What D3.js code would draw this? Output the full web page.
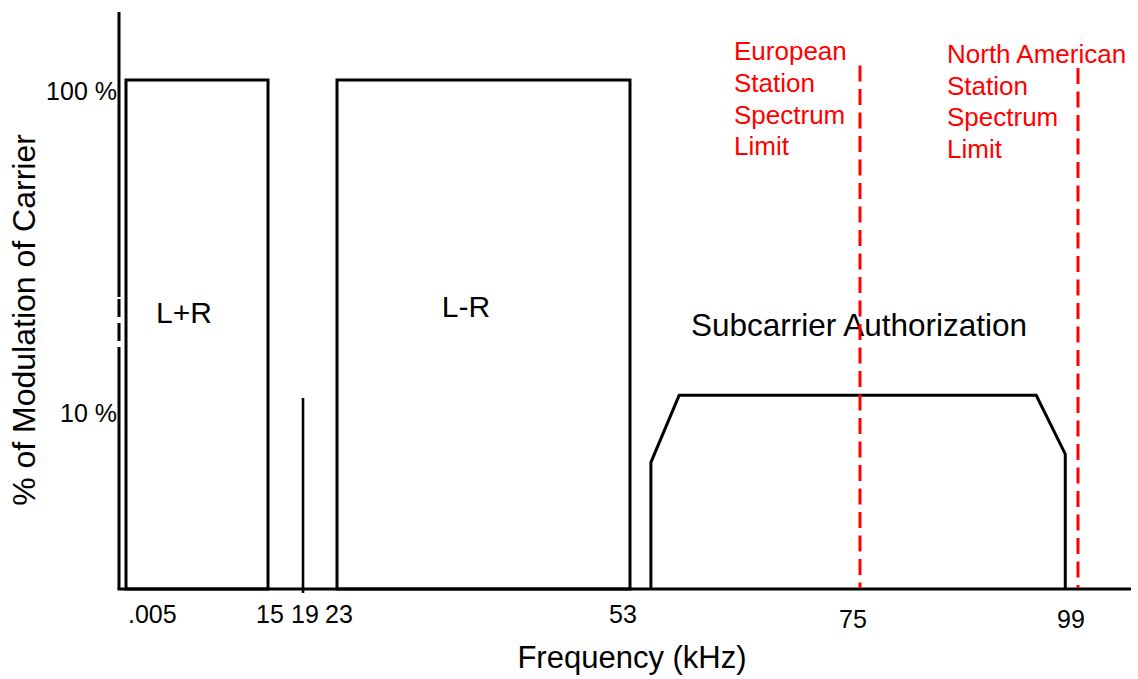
<!DOCTYPE html>
<html>
<head>
<meta charset="utf-8">
<script src="https://cdn.jsdelivr.net/npm/d3@7"></script>
<style>
  html, body { margin: 0; padding: 0; background: #fff; }
  svg { display: block; font-family: "Liberation Sans", Arial, sans-serif; }
</style>
</head>
<body>
<svg id="chart" width="1138" height="679"></svg>
<script>
// ---- data ----
const tickValues = [0.005, 15, 19, 23, 53, 75, 99];
const tickLabels = [".005", "15", "19", "23", "53", "75", "99"];
const yTickValues = [100, 10];
const yTickLabels = ["100 %", "10 %"];

const bandNames = ["L+R", "L-R"];
const bandStart = [0.005, 23];
const bandEnd = [15, 53];
const bandLevel = [100, 100];

const pilotFreq = 19;
const pilotLevel = 10.3;

const subName = "Subcarrier Authorization";
const subFreq = [55, 55, 57.7, 94.4, 97.6, 97.6];
const subLevel = [null, 6.5, 10.5, 10.5, 6.9, null];

const limitFreq = [75, 99];
const limitTop = [111, 109];
const limitLabels = [
  ["European", "Station", "Spectrum", "Limit"],
  ["North American", "Station", "Spectrum", "Limit"]
];

// ---- scales ----
const svg = d3.select("#chart");
const yMin = 2.63;
const x = d3.scaleLinear()
  .domain([0.005, 15, 19, 23, 53, 75, 99])
  .range([126, 268, 303, 337, 630, 860, 1078]);
const y = d3.scaleLog().domain([yMin, 100]).range([589, 80]);

const axisX0 = 119, axisX1 = 1131, axisYTop = 12;
const black = "#000", red = "#ff0000";

// ---- axes ----
// y axis with a dashed break
svg.append("line").attr("x1", axisX0).attr("x2", axisX0).attr("y1", axisYTop).attr("y2", 297)
  .attr("stroke", black).attr("stroke-width", 3);
svg.append("line").attr("x1", axisX0).attr("x2", axisX0).attr("y1", 299).attr("y2", 341)
  .attr("stroke", black).attr("stroke-width", 3).attr("stroke-dasharray", "18,6");
svg.append("line").attr("x1", axisX0).attr("x2", axisX0).attr("y1", 347).attr("y2", y(yMin))
  .attr("stroke", black).attr("stroke-width", 3);
// x axis
svg.append("line").attr("x1", axisX0 - 1.5).attr("x2", axisX1).attr("y1", y(yMin)).attr("y2", y(yMin))
  .attr("stroke", black).attr("stroke-width", 3);

// y tick labels
svg.selectAll("text.ytick").data(yTickValues).join("text")
  .attr("class", "ytick")
  .attr("x", 117)
  .attr("y", d => y(d) + 20)
  .attr("text-anchor", "end")
  .attr("font-size", 25)
  .attr("fill", black)
  .text((d, i) => yTickLabels[i]);

// x tick labels
svg.selectAll("text.xtick").data(tickValues).join("text")
  .attr("class", "xtick")
  .attr("x", (d, i) => i === 0 ? x(d) + 2 : (d < 50 ? x(d) + 2 : x(d) - 7))
  .attr("y", d => d > 60 ? 628 : 623)
  .attr("text-anchor", (d, i) => i === 0 ? "start" : "middle")
  .attr("font-size", 25)
  .attr("fill", black)
  .text((d, i) => tickLabels[i]);

// axis titles
svg.append("text")
  .attr("x", 632).attr("y", 668)
  .attr("text-anchor", "middle")
  .attr("font-size", 31)
  .text("Frequency (kHz)");
svg.append("text")
  .attr("transform", "translate(35,320) rotate(-90)")
  .attr("text-anchor", "middle")
  .attr("font-size", 32)
  .text("% of Modulation of Carrier");

// ---- bands ----
svg.selectAll("rect.band").data(bandNames).join("rect")
  .attr("class", "band")
  .attr("x", (d, i) => x(bandStart[i]))
  .attr("y", (d, i) => y(bandLevel[i]))
  .attr("width", (d, i) => x(bandEnd[i]) - x(bandStart[i]))
  .attr("height", (d, i) => y(yMin) - y(bandLevel[i]))
  .attr("fill", "none")
  .attr("stroke", black)
  .attr("stroke-width", 3);

svg.selectAll("text.band").data(bandNames).join("text")
  .attr("class", "band")
  .attr("x", (d, i) => i === 0 ? 184 : 466)
  .attr("y", (d, i) => i === 0 ? 323 : 317)
  .attr("text-anchor", "middle")
  .attr("font-size", 30)
  .text(d => d);

// pilot
svg.append("line")
  .attr("x1", x(pilotFreq)).attr("x2", x(pilotFreq))
  .attr("y1", y(pilotLevel)).attr("y2", y(yMin) + 4)
  .attr("stroke", black).attr("stroke-width", 2.6);

// subcarrier
const subLine = d3.line()
  .x(d => x(d[0]))
  .y(d => y(d[1] === null ? yMin : d[1]));
svg.append("path")
  .attr("d", subLine(subFreq.map((f, i) => [f, subLevel[i]])))
  .attr("fill", "none")
  .attr("stroke", black)
  .attr("stroke-width", 3)
  .attr("stroke-linejoin", "miter");

svg.append("text")
  .attr("x", 859).attr("y", 336)
  .attr("text-anchor", "middle")
  .attr("font-size", 31.5)
  .text(subName);

// ---- spectrum limits ----
svg.selectAll("line.limit").data(limitFreq).join("line")
  .attr("class", "limit")
  .attr("x1", d => x(d)).attr("x2", d => x(d))
  .attr("y1", (d, i) => y(limitTop[i]))
  .attr("y2", y(yMin) - 1)
  .attr("stroke", red)
  .attr("stroke-width", 3)
  .attr("stroke-dasharray", "16,7.5");

limitFreq.forEach((f, i) => {
  const lx = x(f) - (i === 0 ? 126 : 131);
  const t = svg.append("text")
    .attr("x", lx)
    .attr("y", y(limitTop[i]) - 5)
    .attr("font-size", 26)
    .attr("fill", red);
  limitLabels[i].forEach((line, j) => {
    t.append("tspan")
      .attr("x", lx)
      .attr("dy", j === 0 ? 0 : 31.7)
      .text(line);
  });
});
</script>
</body>
</html>
